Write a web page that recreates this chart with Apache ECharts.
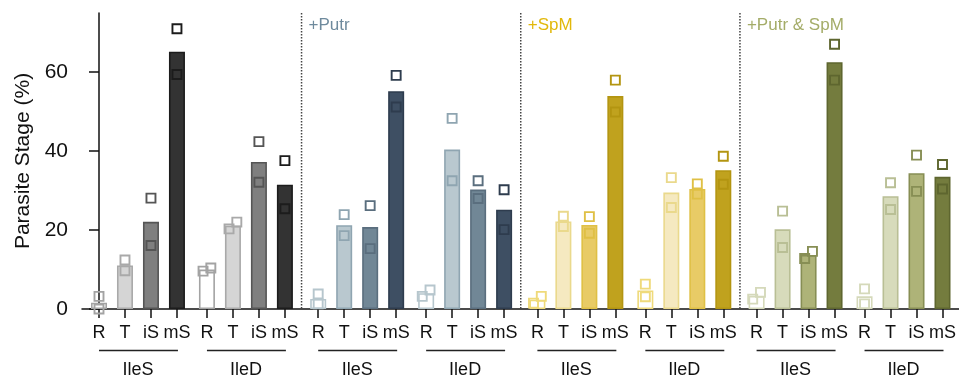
<!DOCTYPE html>
<html>
<head>
<meta charset="utf-8">
<script src="https://cdn.jsdelivr.net/npm/echarts@6/dist/echarts.min.js"></script>
<style>
  html, body { margin: 0; padding: 0; background: #ffffff; }
  #chart { width: 959px; height: 378px; }
</style>
</head>
<body>
<div id="chart"></div>
<script>
// ---- data -------------------------------------------------------------
const stageLabels = ['R', 'T', 'iS', 'mS'];
const strainLabels = ['IleS', 'IleD'];
const treatmentLabels = ['', '+Putr', '+SpM', '+Putr & SpM'];
const yTickValues = [0, 20, 40, 60];

// bar heights (mean %), IleS R,T,iS,mS then IleD R,T,iS,mS
const meanControl = [1.6, 11.05, 22.1, 65.2, 10.0, 21.15, 37.25, 31.5];
const meanPutr    = [2.55, 21.25, 20.75, 55.2, 4.0, 40.4, 30.25, 25.15];
const meanSpM     = [2.35, 22.2, 21.3, 53.95, 4.7, 29.5, 30.4, 35.15];
const meanPutrSpM = [3.35, 20.2, 13.7, 62.55, 3.2, 28.6, 34.4, 33.5];

// individual replicates, same order
const repAControl = [3.2, 12.4, 28.1, 71.0, 9.6, 20.3, 42.4, 37.6];
const repBControl = [0.0, 9.7, 16.1, 59.4, 10.4, 22.0, 32.1, 25.4];
const repAPutr    = [3.8, 23.9, 26.2, 59.2, 3.2, 48.3, 32.5, 30.2];
const repBPutr    = [1.3, 18.6, 15.3, 51.2, 4.8, 32.5, 28.0, 20.1];
const repASpM     = [1.5, 23.5, 23.4, 58.0, 6.3, 33.3, 31.7, 38.7];
const repBSpM     = [3.2, 20.9, 19.2, 49.9, 3.1, 25.7, 29.1, 31.6];
const repAPutrSpM = [2.5, 24.8, 12.8, 67.1, 5.1, 32.0, 39.0, 36.6];
const repBPutrSpM = [4.2, 15.6, 14.6, 58.0, 1.3, 25.2, 29.8, 30.4];

const means = [meanControl, meanPutr, meanSpM, meanPutrSpM];
const repsA = [repAControl, repAPutr, repASpM, repAPutrSpM];
const repsB = [repBControl, repBPutr, repBSpM, repBPutrSpM];

// ---- styles -----------------------------------------------------------
const fillColors = [
  ['#ffffff', '#d5d5d5', '#7f7f7f', '#333333'],
  ['#ffffff', '#b9c8cf', '#718796', '#3e4f63'],
  ['#ffffff', '#f5e9c0', '#e8cb66', '#c0a21e'],
  ['#ffffff', '#d7dbbb', '#aeb378', '#747c3e']
];
const edgeColors = [
  ['#a3a3a3', '#a9a9a9', '#555555', '#1c1c1c'],
  ['#b6c6cd', '#8fa5b1', '#5a6e7e', '#2e3c4e'],
  ['#efda7a', '#ead98c', '#dfc045', '#b39511'],
  ['#d5d9ba', '#b9bf95', '#878e54', '#5e662f']
];
const titleColors = ['#333333', '#6e8a9d', '#e2b80a', '#a4ac68'];

const FONT = "'Liberation Sans', Arial, sans-serif";

// ---- layout (x in stage-slot units) -----------------------------------
const GROUP_PITCH = 4.154;
const PANEL_PITCH = 8.435;
const X_MIN = -0.654;
const X_MAX = 33.08;
const Y_MAX = 75;
const JITTER = 0.15;
const OVERLAP = 2.2;

const xPos = (p, g, s) => p * PANEL_PITCH + g * GROUP_PITCH + s;

const barData = [];
const pointData = [];
const tickPositions = [];
const tickNames = [];
for (let p = 0; p < 4; p++) {
  for (let g = 0; g < 2; g++) {
    for (let s = 0; s < 4; s++) {
      const i = g * 4 + s;
      const x = xPos(p, g, s);
      tickPositions.push(x);
      tickNames.push(stageLabels[s]);
      barData.push({
        value: [x, means[p][i]],
        itemStyle: { color: fillColors[p][s], borderColor: edgeColors[p][s] }
      });
      const a = repsA[p][i], b = repsB[p][i];
      // spread near-identical replicates sideways so both stay visible
      let da = 0, db = 0;
      if (Math.abs(a - b) < OVERLAP) {
        da = a < b ? -JITTER : JITTER;
        db = -da;
      }
      [[a, da], [b, db]].forEach(([v, d]) => {
        pointData.push({
          value: [x + d, v],
          itemStyle: { borderColor: edgeColors[p][s] }
        });
      });
    }
  }
}

const stageNameAt = (v) => {
  let best = 0;
  for (let k = 1; k < tickPositions.length; k++) {
    if (Math.abs(tickPositions[k] - v) < Math.abs(tickPositions[best] - v)) best = k;
  }
  return tickNames[best];
};

// strain brackets under each group of four
const groupData = [];
for (let p = 0; p < 4; p++) {
  for (let g = 0; g < 2; g++) groupData.push([xPos(p, g, 0), 0, p, g]);
}
// dotted dividers between treatments
const dividerData = [];
for (let p = 1; p < 4; p++) {
  dividerData.push([(xPos(p - 1, 1, 3) + xPos(p, 0, 0)) / 2, 0, p]);
}

const chart = echarts.init(document.getElementById('chart'), null, { renderer: 'canvas' });

chart.setOption({
  animation: false,
  backgroundColor: '#ffffff',
  grid: { left: 82, right: 0, top: 13, bottom: 69, containLabel: false },
  xAxis: {
    type: 'value',
    min: X_MIN,
    max: X_MAX,
    splitLine: { show: false },
    axisLine: { show: true, onZero: false, lineStyle: { color: '#111', width: 1.5 } },
    axisTick: {
      show: true, length: 9, customValues: tickPositions,
      lineStyle: { color: '#111', width: 1.5 }
    },
    axisLabel: {
      show: true, customValues: tickPositions, margin: 15,
      showMinLabel: true, showMaxLabel: true,
      color: '#111', fontSize: 18, fontFamily: FONT,
      formatter: (v) => stageNameAt(v)
    }
  },
  yAxis: {
    type: 'value',
    min: 0,
    max: Y_MAX,
    name: 'Parasite Stage (%)',
    nameLocation: 'middle',
    nameGap: 47,
    nameTextStyle: { color: '#111', fontSize: 21, fontFamily: FONT },
    splitLine: { show: false },
    axisLine: { show: true, lineStyle: { color: '#111', width: 1.5 } },
    axisTick: {
      show: true, length: 10, customValues: yTickValues,
      lineStyle: { color: '#111', width: 1.5 }
    },
    axisLabel: {
      customValues: yTickValues, margin: 14,
      color: '#111', fontSize: 21, fontFamily: FONT
    }
  },
  series: [
    {
      type: 'custom',
      coordinateSystem: 'cartesian2d',
      clip: false,
      silent: true,
      z: 1,
      data: dividerData,
      encode: { x: 0, y: 1 },
      renderItem: (params, api) => {
        const x = api.coord([api.value(0), 0])[0];
        const yTop = api.coord([0, Y_MAX])[1];
        const yBot = api.coord([0, 0])[1];
        const p = api.value(2);
        return {
          type: 'group',
          children: [
            {
              type: 'line',
              shape: { x1: x, y1: yTop, x2: x, y2: yBot },
              style: { stroke: '#444', lineWidth: 1.5, lineDash: [1.4, 1.6] }
            },
            {
              type: 'text',
              style: {
                x: x + 7, y: yTop + 12,
                text: treatmentLabels[p],
                fill: titleColors[p],
                font: '17px ' + FONT,
                align: 'left', verticalAlign: 'middle'
              }
            }
          ]
        };
      }
    },
    {
      type: 'bar',
      barWidth: 16,
      z: 2,
      itemStyle: { borderWidth: 1.6 },
      data: barData
    },
    {
      type: 'scatter',
      symbol: 'rect',
      symbolSize: 9,
      z: 3,
      itemStyle: { color: 'rgba(0,0,0,0)', borderWidth: 1.9, opacity: 1 },
      data: pointData
    },
    {
      type: 'custom',
      coordinateSystem: 'cartesian2d',
      clip: false,
      silent: true,
      z: 4,
      data: groupData,
      encode: { x: 0, y: 1 },
      renderItem: (params, api) => {
        const p = api.value(2), g = api.value(3);
        const x1 = api.coord([xPos(p, g, 0), 0])[0];
        const x2 = api.coord([xPos(p, g, 3), 0])[0];
        const y0 = api.coord([0, 0])[1];
        return {
          type: 'group',
          children: [
            {
              type: 'line',
              shape: { x1: x1, y1: y0 + 41.5, x2: x2 + 1, y2: y0 + 41.5 },
              style: { stroke: '#222', lineWidth: 1.5 }
            },
            {
              type: 'text',
              style: {
                x: (x1 + x2) / 2, y: y0 + 61,
                text: strainLabels[g],
                fill: '#111',
                font: '18px ' + FONT,
                align: 'center', verticalAlign: 'middle'
              }
            }
          ]
        };
      }
    }
  ]
});
</script>
</body>
</html>
